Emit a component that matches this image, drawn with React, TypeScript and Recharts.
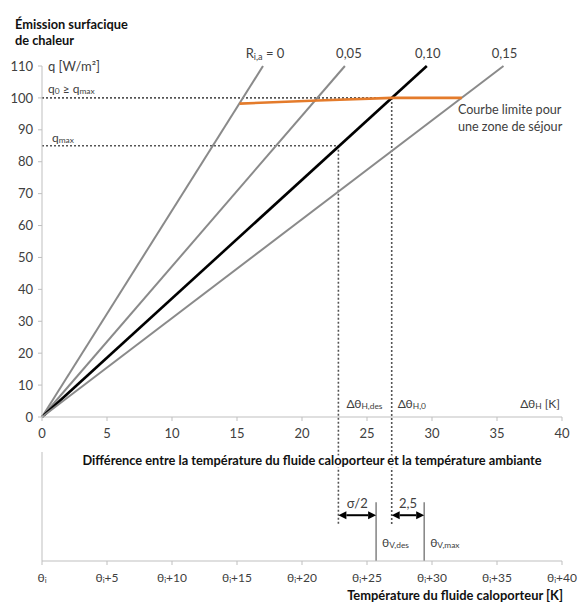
import { LineChart, Line, XAxis, YAxis, ReferenceLine, ReferenceDot } from 'recharts'

const FONT = 'Lato, "Open Sans", sans-serif'
const TEXT = '#404040'
const AXIS = '#BFBFBF'
const GRAY = '#8A8A8A'
const ORANGE = '#E47B2B'
const DOTTED = '#555555'

// ΔθH axis (K) and q axis (W/m²)
const DT_TICKS = [0, 5, 10, 15, 20, 25, 30, 35, 40]
const Q_TICKS = [0, 10, 20, 30, 40, 50, 60, 70, 80, 90, 100, 110]

// characteristic lines per Ri,a : ΔθH where q reaches 110 W/m²
const RIA_LABELS = ['0', '0,05', '0,10', '0,15']
const RIA_DT_TOP = [17.0, 23.3, 29.6, 35.5]
const RIA_COLORS = [GRAY, GRAY, '#000000', GRAY]
const Q_TOP = 110

// limit curve for an occupied zone
const LIMIT_DT = [15.2, 21.2, 26.9, 32.3]
const LIMIT_Q = [98.2, 99.2, 100, 100]

const Q0 = 100
const QMAX = 85
const DT_DES = 22.8
const DT_0 = 26.9
const DOTTED_BOTTOM = -34

// lower axis : fluid temperature
const THETA_V_DES = 25.7
const THETA_V_MAX = 29.4
const MARK_TOP = 54
const ARROW_Y = 42

type Part = [string, boolean?]

function RichText({ x, y, parts, anchor = 'start', size = 12, bold = false, halo = false }: any) {
  let shifted = false
  return (
    <text
      x={x}
      y={y}
      textAnchor={anchor}
      dominantBaseline="central"
      fontSize={size}
      fontWeight={bold ? 700 : 400}
      fontFamily={FONT}
      fill={bold ? '#111' : TEXT}
      stroke={halo ? '#fff' : undefined}
      strokeWidth={halo ? 5 : undefined}
      paintOrder="stroke"
    >
      {parts.map(([t, sub]: Part, i: number) => {
        let dy: number | undefined
        if (sub && !shifted) dy = 3
        if (!sub && shifted) dy = -3
        shifted = !!sub
        return (
          <tspan key={i} dy={dy} fontSize={sub ? size * 0.7 : size}>
            {t}
          </tspan>
        )
      })}
    </text>
  )
}

function note(key: string, x: number, y: number, parts: Part[], dx: number, dy: number, opts: any = {}) {
  return (
    <ReferenceDot
      key={key}
      x={x}
      y={y}
      r={0}
      ifOverflow="visible"
      shape={(p: any) => <RichText x={p.cx + dx} y={p.cy + dy} parts={parts} {...opts} />}
    />
  )
}

const arrow = (label: string) => (p: any) => {
  const { x1, y1, x2 } = p
  const h = 8
  const w = 4
  return (
    <g>
      <line x1={x1 + h} y1={y1} x2={x2 - h} y2={y1} stroke="#000" strokeWidth={2} />
      <polygon points={`${x1},${y1} ${x1 + h},${y1 - w} ${x1 + h},${y1 + w}`} fill="#000" />
      <polygon points={`${x2},${y1} ${x2 - h},${y1 - w} ${x2 - h},${y1 + w}`} fill="#000" />
      <RichText x={(x1 + x2) / 2} y={y1 - 12} parts={[[label]]} anchor="middle" size={13} />
    </g>
  )
}

const ThetaTick = ({ x, y, payload }: any) => (
  <text x={x} y={y + 10} textAnchor="middle" dominantBaseline="central" fontSize={12} fontFamily={FONT} fill={TEXT}>
    θ
    <tspan dy={3} fontSize={8}>i</tspan>
    <tspan dy={-3}>{payload.value ? `+${payload.value}` : ''}</tspan>
  </text>
)

export default function App() {
  const lines = RIA_DT_TOP.map((dt) => [
    { x: 0, q: 0 },
    { x: dt, q: Q_TOP },
  ])
  const limit = LIMIT_DT.map((x, i) => ({ x, q: LIMIT_Q[i] }))
  const markDes = [
    { x: THETA_V_DES, v: 0 },
    { x: THETA_V_DES, v: MARK_TOP },
  ]
  const markMax = [
    { x: THETA_V_MAX, v: 0 },
    { x: THETA_V_MAX, v: MARK_TOP },
  ]
  const dotted = { stroke: DOTTED, strokeWidth: 1.6, strokeDasharray: '2 2', ifOverflow: 'visible' as const }

  return (
    <div style={{ position: 'absolute', left: 0, top: 0, width: 580, height: 610, background: '#fff', fontFamily: FONT }}>
      <div
        style={{
          position: 'absolute',
          left: 15,
          top: 16,
          fontSize: 12.8,
          lineHeight: '16px',
          fontWeight: 700,
          color: '#111',
        }}
      >
        Émission surfacique
        <br />
        de chaleur
      </div>

      <div style={{ position: 'absolute', left: 0, top: 0 }}>
        <LineChart width={580} height={610} margin={{ top: 66, right: 18, bottom: 163, left: 0 }}>
          <XAxis
            type="number"
            dataKey="x"
            domain={[0, 40]}
            ticks={DT_TICKS}
            interval={0}
            height={30}
            tickSize={4}
            tickMargin={8}
            stroke={AXIS}
            tick={{ fill: TEXT, fontSize: 13 }}
          />
          <YAxis
            type="number"
            dataKey="q"
            domain={[0, 110]}
            ticks={Q_TICKS}
            interval={0}
            width={42}
            tickSize={4}
            tickMargin={5}
            stroke={AXIS}
            tick={{ fill: TEXT, fontSize: 13 }}
          />
          <ReferenceLine segment={[{ x: 0, y: Q0 }, { x: DT_0, y: Q0 }]} {...dotted} />
          <ReferenceLine segment={[{ x: 0, y: QMAX }, { x: DT_DES, y: QMAX }]} {...dotted} />
          <ReferenceLine segment={[{ x: DT_DES, y: QMAX }, { x: DT_DES, y: DOTTED_BOTTOM }]} {...dotted} />
          <ReferenceLine segment={[{ x: DT_0, y: Q0 }, { x: DT_0, y: DOTTED_BOTTOM }]} {...dotted} />
          {lines.map((d, i) => (
            <Line
              key={RIA_LABELS[i]}
              data={d}
              dataKey="q"
              stroke={RIA_COLORS[i]}
              strokeWidth={i === 2 ? 2.6 : 2}
              dot={false}
              isAnimationActive={false}
            />
          ))}
          <Line data={limit} dataKey="q" stroke={ORANGE} strokeWidth={2.6} dot={false} isAnimationActive={false} />
          {RIA_DT_TOP.map((dt, i) =>
            note(
              'r' + i,
              dt,
              Q_TOP,
              i === 0 ? [['R'], ['i,a', true], [' = 0']] : [[RIA_LABELS[i]]],
              i === 0 ? 2 : i === 1 ? 4 : 1,
              -13,
              { anchor: 'middle', size: 13 }
            )
          )}
          {note('qunit', 0, Q_TOP, [['q [W/m²]']], 6, 0, { size: 13 })}
          {note('q0', 0, Q0, [['q'], ['0', true], [' ≥ q'], ['max', true]], 6, -10)}
          {note('qmax', 0, QMAX, [['q'], ['max', true]], 10, -9)}
          {note('dtdes', DT_DES, 0, [['Δθ'], ['H,des', true]], 8, -14)}
          {note('dt0', DT_0, 0, [['Δθ'], ['H,0', true]], 6, -14)}
          {note('dtk', 40, 0, [['Δθ'], ['H', true], [' [K]']], -2, -14, { anchor: 'end' })}
          {note('lim1', LIMIT_DT[3], LIMIT_Q[3], [['Courbe limite pour']], -4, 11, { size: 12.6 })}
          {note('lim2', LIMIT_DT[3], LIMIT_Q[3], [['une zone de séjour']], -4, 28, { size: 12.6 })}
        </LineChart>
      </div>

      <div style={{ position: 'absolute', left: 0, top: 0 }}>
        <LineChart width={580} height={610} margin={{ top: 452, right: 18, bottom: 19, left: 0 }}>
          <XAxis
            type="number"
            dataKey="x"
            domain={[0, 40]}
            ticks={DT_TICKS}
            interval={0}
            height={30}
            tickSize={4}
            tickMargin={2}
            stroke={AXIS}
            tick={<ThetaTick />}
          />
          <YAxis type="number" dataKey="v" domain={[0, 100]} width={42} tick={false} tickLine={false} stroke={AXIS} />
          <Line data={markDes} dataKey="v" stroke={GRAY} strokeWidth={1.6} dot={false} isAnimationActive={false} />
          <Line data={markMax} dataKey="v" stroke={GRAY} strokeWidth={1.6} dot={false} isAnimationActive={false} />
          <ReferenceLine
            segment={[{ x: DT_DES, y: ARROW_Y }, { x: THETA_V_DES, y: ARROW_Y }]}
            ifOverflow="visible"
            shape={arrow('σ/2')}
          />
          <ReferenceLine
            segment={[{ x: DT_0, y: ARROW_Y }, { x: THETA_V_MAX, y: ARROW_Y }]}
            ifOverflow="visible"
            shape={arrow('2,5')}
          />
          {note('vdes', THETA_V_DES, 0, [['θ'], ['V,des', true]], 6, -19)}
          {note('vmax', THETA_V_MAX, 0, [['θ'], ['V,max', true]], 6, -19)}
          {note(
            'diff',
            20,
            100,
            [['Différence entre la température du fluide caloporteur et la température ambiante']],
            10,
            8,
            { anchor: 'middle', bold: true, size: 12.8, halo: true }
          )}
          {note('temp', 40, 0, [['Température du fluide caloporteur [K]']], 1, 34, { anchor: 'end', bold: true, size: 12.9 })}
        </LineChart>
      </div>
    </div>
  )
}
